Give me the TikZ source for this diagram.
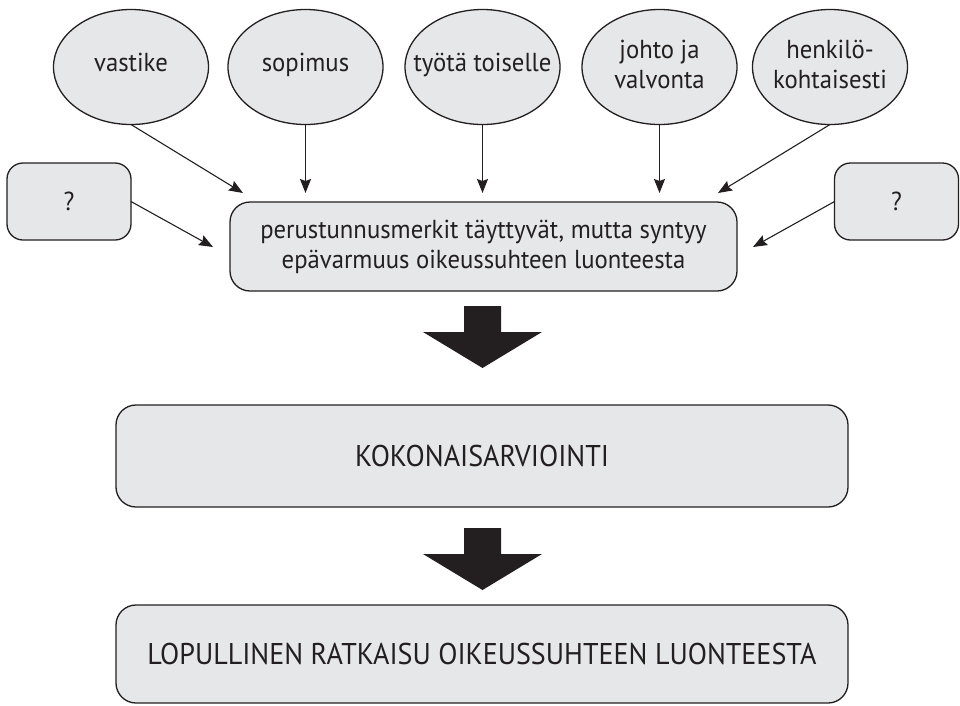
\documentclass[tikz,border=0pt]{standalone}
\usepackage{fontspec}
\setmainfont{PT Sans}[FakeStretch=0.95]
\newfontfamily\capsfont{PT Sans}[FakeStretch=0.935]
\usetikzlibrary{arrows.meta,shapes.geometric}
\definecolor{boxfill}{HTML}{E6E7E8}
\definecolor{ink}{HTML}{231F20}
\begin{document}
\begin{tikzpicture}[x=1pt,y=-1pt,
  every node/.style={inner sep=0pt, outer sep=0pt, text=ink},
  oval/.style={ellipse, draw=ink, fill=boxfill, line width=1.3pt,
    inner xsep=-30pt, minimum width=155pt, minimum height=115pt, align=center,
    font=\fontsize{26}{30}\selectfont},
  oneline/.style={text height=20pt, text depth=12pt},
  twoline/.style={text height=50pt, text depth=8pt},
  qbox/.style={rectangle, rounded corners=16pt, draw=ink, fill=boxfill,
    line width=1.3pt, minimum width=124pt, minimum height=77pt,
    font=\fontsize{26}{30}\selectfont},
  mainbox/.style={rectangle, rounded corners=20pt, draw=ink, fill=boxfill,
    line width=1.3pt, align=center, font=\fontsize{26}{30}\selectfont},
  bigbox/.style={rectangle, rounded corners=20pt, draw=ink, fill=boxfill,
    line width=1.3pt, minimum width=732pt, font=\capsfont\fontsize{30}{34}\selectfont},
  link/.style={draw=ink, line width=1.1pt,
    -{Stealth[length=14pt,width=11pt,inset=2pt]}},
  bigdown/.pic={\fill[ink] (-18.5,0) -- (18.5,0) -- (18.5,26) -- (59.5,26)
    -- (0,62) -- (-59.5,26) -- (-18.5,26) -- cycle;}
]
\useasboundingbox (0,0) rectangle (960,705);

% criteria
\node[oval, oneline] (vastike) at (131,67) {vastike};
\node[oval, oneline] (sopimus) at (305.5,67) {sopimus};
\node[oval, oneline] (tyo)     at (482.5,67) {työtä toiselle};
\node[oval, twoline] (johto)   at (659.5,67) {johto ja\\valvonta};
\node[oval, twoline] (henk)    at (830,67) {henkilö-\\kohtaisesti};

% open questions
\node[qbox] (q1) at (69,201.5) {?};
\node[qbox] (q2) at (896.5,201.5) {?};

% central box
\node[mainbox, minimum width=507pt, minimum height=89pt] (main) at (483.5,246.5)
  {perustunnusmerkit täyttyvät, mutta syntyy\\epävarmuus oikeussuhteen luonteesta};

% arrow ends above the central box
\coordinate (e1) at (243,193);
\coordinate (e2) at (305.5,193);
\coordinate (e3) at (482.5,193);
\coordinate (e4) at (659.5,193);
\coordinate (e5) at (718,193);
\coordinate (e6) at (213,247);
\coordinate (e7) at (753,247);

\draw[link] (vastike.south) -- (e1);
\draw[link] (sopimus.south) -- (e2);
\draw[link] (tyo.south) -- (e3);
\draw[link] (johto.south) -- (e4);
\draw[link] (henk.south) -- (e5);
\draw[link] (q1.east) -- (e6);
\draw[link] (q2.west) -- (e7);

% overall assessment and result
\node[bigbox, minimum height=102pt] (koko) at (482,456) {KOKONAISARVIOINTI};
\node[bigbox, minimum height=98pt] (loppu) at (482,654)
  {LOPULLINEN RATKAISU OIKEUSSUHTEEN LUONTEESTA};

\pic at (482.5,306) {bigdown};
\pic at (482.5,528) {bigdown};
\end{tikzpicture}
\end{document}
